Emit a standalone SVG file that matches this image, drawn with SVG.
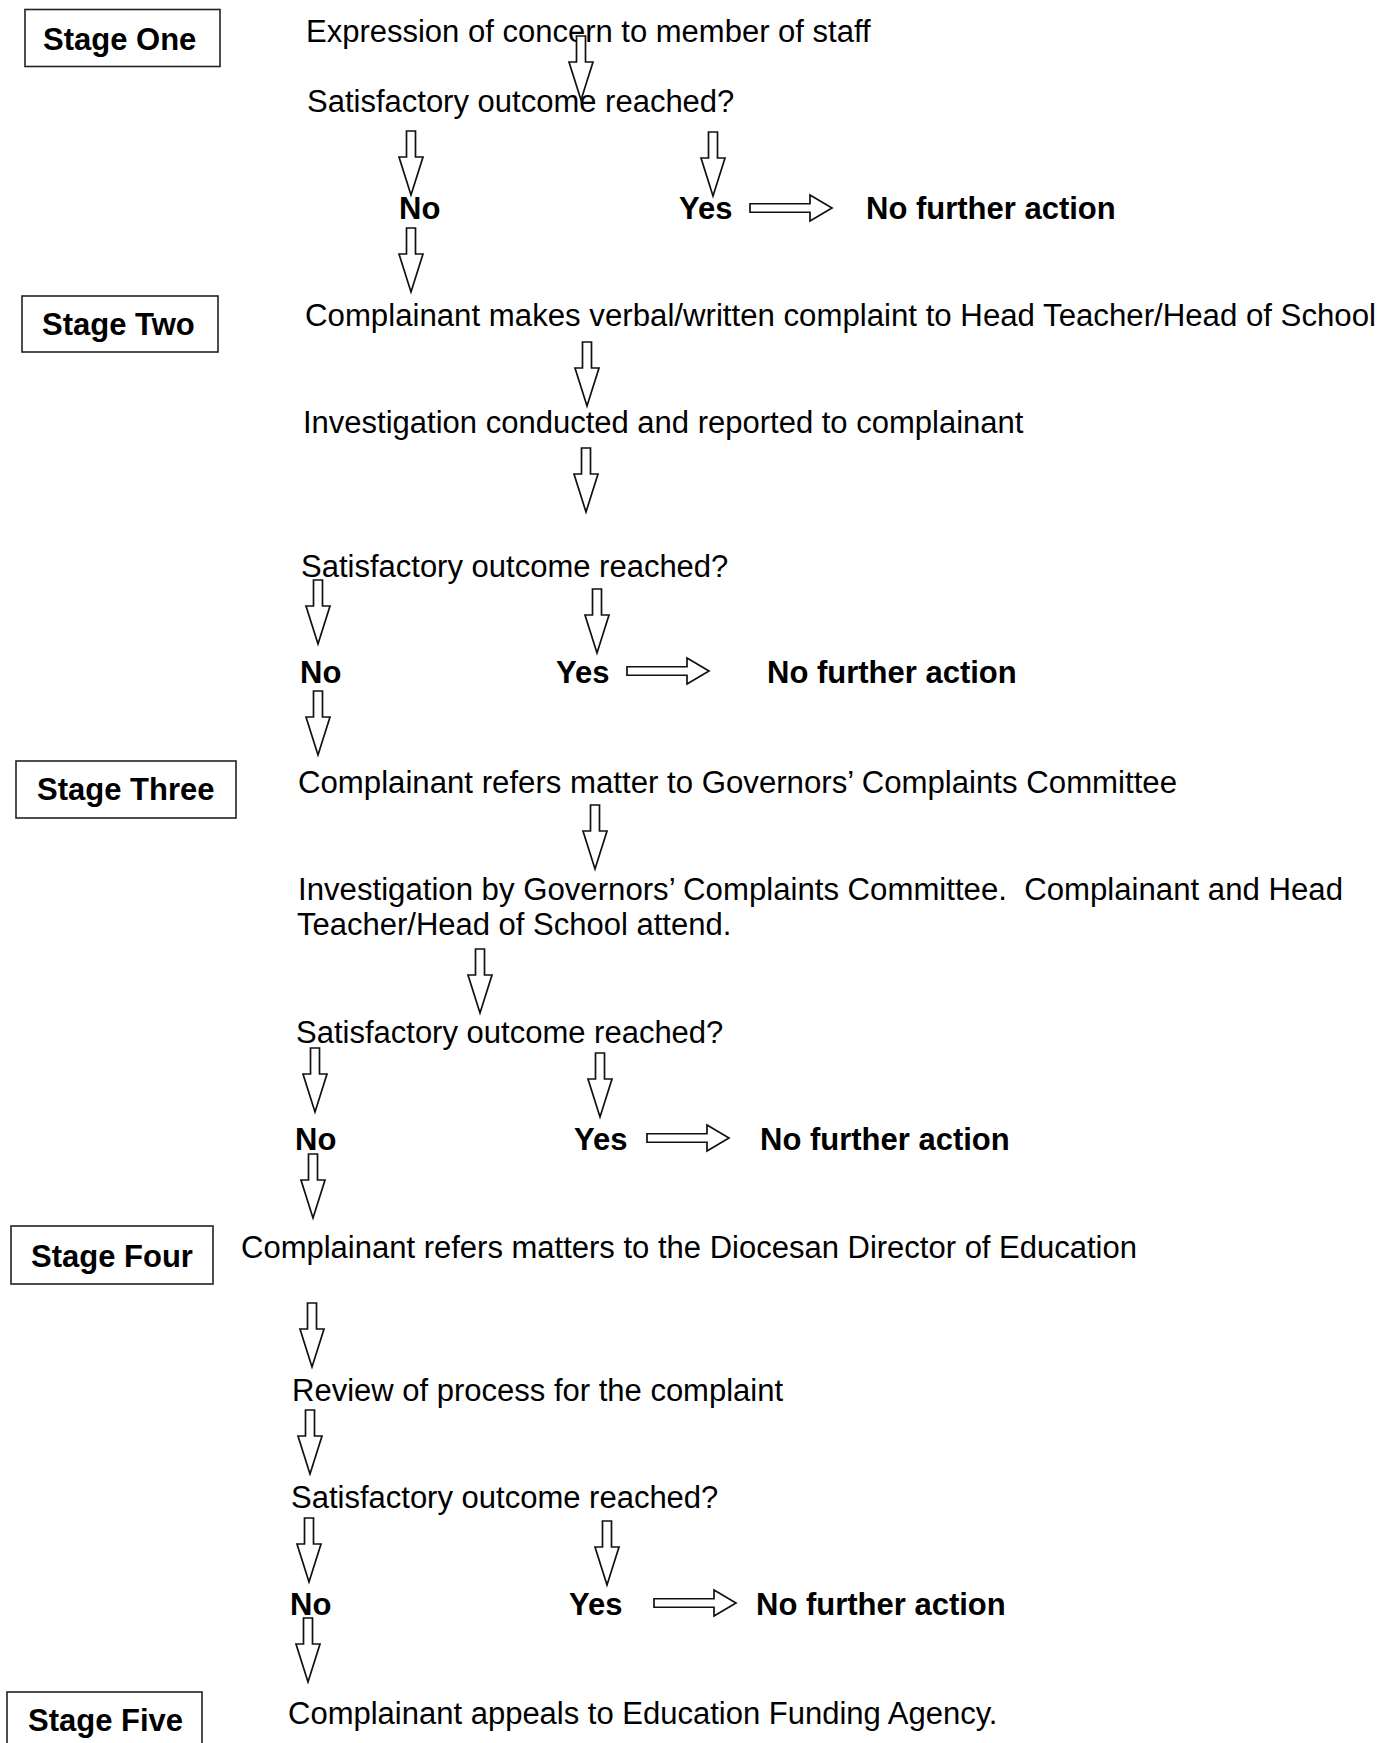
<svg xmlns="http://www.w3.org/2000/svg" width="1394" height="1743" viewBox="0 0 1394 1743">
<style>
.bg{fill:#fff}
.box{fill:#fff;stroke:#222;stroke-width:1.6}
.t{font-family:"Liberation Sans",Arial,sans-serif;font-size:31px;fill:#000;white-space:pre}
.b{font-weight:bold}
.arr{fill:#fff;stroke:#111;stroke-width:1.7;stroke-linejoin:miter}
</style>
<defs>
<path id="down" d="M-4.5,0 L4.5,0 L4.5,26 L12,26 L0,64 L-12,26 L-4.5,26 Z"/>
<path id="right" d="M0,-4.25 L60,-4.25 L60,-13 L82,0 L60,13 L60,4.25 L0,4.25 Z"/>
</defs>
<rect class="bg" x="0" y="0" width="1394" height="1743"/>

<g id="stage-one"><rect class="box" x="25" y="9.5" width="195" height="57"/><text class="t b" x="43" y="50">Stage One</text></g>
<g id="stage-two"><rect class="box" x="22" y="296" width="196" height="56"/><text class="t b" x="42" y="335">Stage Two</text></g>
<g id="stage-three"><rect class="box" x="16" y="761" width="220" height="57"/><text class="t b" x="37" y="800">Stage Three</text></g>
<g id="stage-four"><rect class="box" x="11" y="1226" width="202" height="58"/><text class="t b" x="31" y="1267">Stage Four</text></g>
<g id="stage-five"><rect class="box" x="7" y="1692" width="195" height="60"/><text class="t b" x="28" y="1731">Stage Five</text></g>

<g id="n-expression"><text class="t" x="306" y="42">Expression of concern to member of staff</text></g>
<g id="n-sat1"><text class="t" x="307" y="112">Satisfactory outcome reached?</text></g>
<g id="n-no1"><text class="t b" x="399" y="219">No</text></g>
<g id="n-yes1"><text class="t b" x="679" y="219">Yes</text></g>
<g id="n-nfa1"><text class="t b" x="866" y="219">No further action</text></g>

<g id="n-complaint-head"><text class="t" x="305" y="326" textLength="1071" lengthAdjust="spacingAndGlyphs">Complainant makes verbal/written complaint to Head Teacher/Head of School</text></g>
<g id="n-investigation"><text class="t" x="303" y="433">Investigation conducted and reported to complainant</text></g>
<g id="n-sat2"><text class="t" x="301" y="577">Satisfactory outcome reached?</text></g>
<g id="n-no2"><text class="t b" x="300" y="683">No</text></g>
<g id="n-yes2"><text class="t b" x="556" y="683">Yes</text></g>
<g id="n-nfa2"><text class="t b" x="767" y="683">No further action</text></g>

<g id="n-governors"><text class="t" x="298" y="793" textLength="879" lengthAdjust="spacingAndGlyphs">Complainant refers matter to Governors’ Complaints Committee</text></g>
<g id="n-gov-investigation"><text class="t" x="298" y="900" textLength="1045" lengthAdjust="spacingAndGlyphs">Investigation by Governors’ Complaints Committee.  Complainant and Head</text><text class="t" x="297" y="935">Teacher/Head of School attend.</text></g>
<g id="n-sat3"><text class="t" x="296" y="1043">Satisfactory outcome reached?</text></g>
<g id="n-no3"><text class="t b" x="295" y="1150">No</text></g>
<g id="n-yes3"><text class="t b" x="574" y="1150">Yes</text></g>
<g id="n-nfa3"><text class="t b" x="760" y="1150">No further action</text></g>

<g id="n-diocesan"><text class="t" x="241" y="1258">Complainant refers matters to the Diocesan Director of Education</text></g>
<g id="n-review"><text class="t" x="292" y="1401">Review of process for the complaint</text></g>
<g id="n-sat4"><text class="t" x="291" y="1508">Satisfactory outcome reached?</text></g>
<g id="n-no4"><text class="t b" x="290" y="1615">No</text></g>
<g id="n-yes4"><text class="t b" x="569" y="1615">Yes</text></g>
<g id="n-nfa4"><text class="t b" x="756" y="1615">No further action</text></g>

<g id="n-efa"><text class="t" x="288" y="1724">Complainant appeals to Education Funding Agency.</text></g>

<g id="connectors">
<use href="#down" class="arr" x="581" y="36"/>
<use href="#down" class="arr" x="411" y="131"/>
<use href="#down" class="arr" x="713" y="132"/>
<use href="#down" class="arr" x="411" y="228"/>
<use href="#down" class="arr" x="587" y="342"/>
<use href="#down" class="arr" x="586" y="448"/>
<use href="#down" class="arr" x="318" y="580"/>
<use href="#down" class="arr" x="597" y="589"/>
<use href="#down" class="arr" x="318" y="691"/>
<use href="#down" class="arr" x="595" y="805"/>
<use href="#down" class="arr" x="480" y="949"/>
<use href="#down" class="arr" x="315" y="1048"/>
<use href="#down" class="arr" x="600" y="1053"/>
<use href="#down" class="arr" x="313" y="1154"/>
<use href="#down" class="arr" x="312" y="1303"/>
<use href="#down" class="arr" x="310" y="1410"/>
<use href="#down" class="arr" x="309" y="1518"/>
<use href="#down" class="arr" x="607" y="1521"/>
<use href="#down" class="arr" x="308" y="1618"/>
<use href="#right" class="arr" x="750" y="208"/>
<use href="#right" class="arr" x="627" y="671"/>
<use href="#right" class="arr" x="647" y="1138"/>
<use href="#right" class="arr" x="654" y="1603"/>
</g>
</svg>
